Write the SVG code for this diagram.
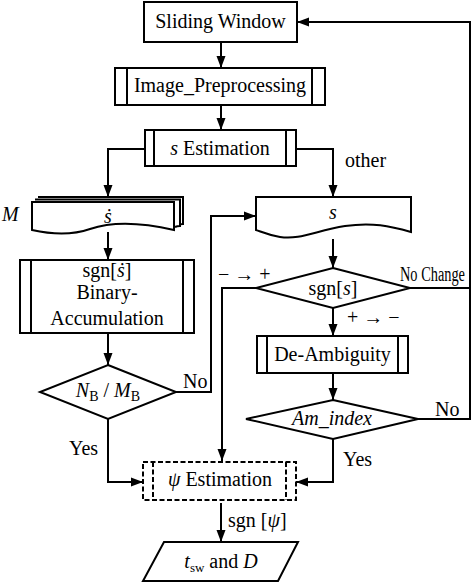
<svg xmlns="http://www.w3.org/2000/svg" width="472" height="585" viewBox="0 0 472 585">
<defs>
<marker id="ah" markerUnits="userSpaceOnUse" markerWidth="12" markerHeight="12" viewBox="0 0 12 12" refX="12" refY="6" orient="auto">
<path d="M0,1.5 L12,6 L0,10.5 Z" fill="#000"/>
</marker>
</defs>
<style>
.s{fill:#fff;stroke:#000;stroke-width:2}
.d{fill:#fff;stroke:#000;stroke-width:2;stroke-dasharray:5 2.5}
.c{fill:none;stroke:#000;stroke-width:2}
.a{marker-end:url(#ah)}
text{font-size:20px;fill:#000;font-family:'Liberation Serif','Times New Roman',serif}
.m{text-anchor:middle}
.i{font-style:italic}
</style>
<rect width="472" height="585" fill="#fff"/>
<g id="connectors">
<path class="c a" d="M221,42 V68"/>
<path class="c a" d="M221,105 V130"/>
<path class="c a" d="M145,149 H108 V197"/>
<path class="c a" d="M296,149 H333 V197"/>
<path class="c a" d="M108,232 V260"/>
<path class="c a" d="M108,333 V365"/>
<path class="c a" d="M176,392 H211 V216 H256"/>
<path class="c a" d="M333,239 V268"/>
<path class="c a" d="M256,288 H222 V461"/>
<path class="c a" d="M333,308 V336"/>
<path class="c" d="M410,288 H470"/>
<path class="c a" d="M418,419 H470 V22 H297"/>
<path class="c a" d="M333,373 V400"/>
<path class="c a" d="M333,439 V482 H296"/>
<path class="c a" d="M108,419 V482 H143"/>
<path class="c a" d="M221,503 V542"/>
</g>
<g id="sliding-window">
<rect class="s" x="144" y="2" width="153" height="40"/>
<text class="m" x="220.5" y="28">Sliding Window</text>
</g>
<g id="image-preprocessing">
<rect class="s" x="115" y="68" width="210" height="37"/>
<path class="c" d="M127,68 V105 M312,68 V105"/>
<text class="m" x="220" y="92">Image_Preprocessing</text>
</g>
<g id="s-estimation">
<rect class="s" x="145" y="130" width="151" height="36"/>
<path class="c" d="M154,130 V166 M286,130 V166"/>
<text class="m" x="220" y="155"><tspan class="i">s</tspan> Estimation</text>
</g>
<text x="345" y="167">other</text>
<g id="s-dot-doc">
<path class="s" d="M38,197 H183 V224 C181,224 180,224 178,225"/>
<path class="s" d="M35,199.5 H180 V226 C178,226 177,226 175,227"/>
<path class="s" d="M32,202 H174 V230 C140,222 110,222 90,229 C70,236 50,234 32,230 Z"/>
<text class="m i" x="108" y="223">ṡ</text>
<text class="i" x="2" y="221">M</text>
</g>
<g id="s-doc">
<path class="s" d="M256,197 H411 V232 C390,226 372,222 345,226 C315,231 300,240 280,237 C268,235 262,232 256,230 Z"/>
<text class="m i" x="333" y="219">s</text>
</g>
<g id="binary-accumulation">
<rect class="s" x="20" y="260" width="174" height="73"/>
<path class="c" d="M31,260 V333 M183,260 V333"/>
<text class="m" x="107" y="277">sgn[<tspan class="i">ṡ</tspan>]</text>
<text class="m" x="107" y="299">Binary-</text>
<text class="m" x="107" y="325">Accumulation</text>
</g>
<g id="nb-mb">
<path class="s" d="M108,365 L176,392 L108,419 L40,392 Z"/>
<text class="m" x="108" y="397"><tspan class="i">N</tspan><tspan font-size="14" dy="4">B</tspan><tspan dy="-4"> / </tspan><tspan class="i">M</tspan><tspan font-size="14" dy="4">B</tspan></text>
</g>
<text x="183" y="388">No</text>
<g id="sgn-s">
<path class="s" d="M333,268 L410,288 L333,308 L256,288 Z"/>
<text class="m" x="333" y="295">sgn[<tspan class="i">s</tspan>]</text>
</g>
<text x="218" y="281" font-size="18">− → +</text>
<text x="400" y="281" font-size="15" textLength="65" lengthAdjust="spacingAndGlyphs">No Change</text>
<text x="347" y="324" font-size="18">+ → −</text>
<g id="de-ambiguity">
<rect class="s" x="257" y="336" width="151" height="37"/>
<path class="c" d="M267,336 V373 M398,336 V373"/>
<text class="m" x="332.5" y="361">De-Ambiguity</text>
</g>
<g id="am-index">
<path class="s" d="M333,400 L418,419 L333,439 L246,419 Z"/>
<text class="m i" x="332" y="425">Am_index</text>
</g>
<text x="435" y="416">No</text>
<text x="343" y="466">Yes</text>
<text x="69" y="455">Yes</text>
<g id="psi-estimation">
<rect class="d" x="143" y="462" width="153" height="38"/>
<path class="c" d="M153,462 V500 M286,462 V500" stroke-dasharray="5 2.5"/>
<text class="m" x="220" y="486"><tspan class="i">ψ</tspan> Estimation</text>
</g>
<text x="228" y="527">sgn [<tspan class="i">ψ</tspan>]</text>
<g id="tsw-d">
<path class="s" d="M164,542 H298 L278,581 H143 Z"/>
<text class="m" x="221" y="568"><tspan class="i">t</tspan><tspan font-size="13" dy="4">sw</tspan><tspan dy="-4">  and </tspan><tspan class="i">D</tspan></text>
</g>
</svg>
